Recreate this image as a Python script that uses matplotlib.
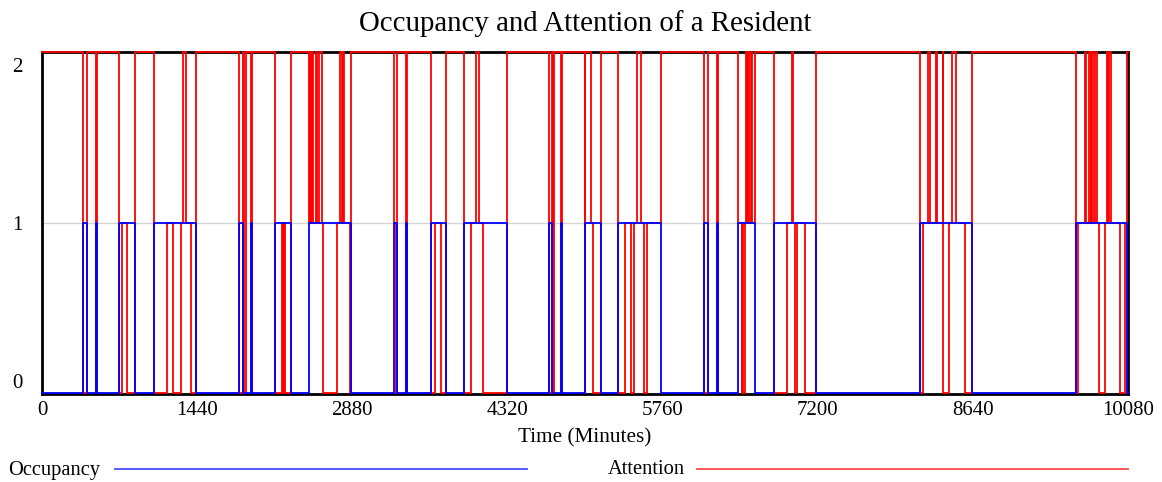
import matplotlib
matplotlib.use('Agg')
from matplotlib import pyplot as plt
from matplotlib.lines import Line2D
from matplotlib.transforms import ScaledTranslation

# occupancy: minutes when the resident enters / leaves
occ_on = [384, 498, 715, 1037, 1832, 1937, 2163, 2481, 3267, 3375, 3608,
          3920, 4706, 4813, 5040, 5350, 6145, 6262, 6463, 6797, 8150, 9595]
occ_off = [421, 510, 863, 1429, 1863, 1952, 2311, 2868, 3298, 3391, 3747,
           4319, 4731, 4823, 5189, 5743, 6179, 6270, 6618, 7184, 8635, 10068]

# attention: minute of change and new level (starts at 2)
att_t = [384, 421, 498, 510,
         715, 746, 786, 863,
         1037, 1157, 1213, 1290, 1312, 1337, 1380, 1429,
         1832, 1863, 1878, 1890, 1937, 1952,
         2163, 2225, 2237, 2246, 2259, 2311,
         2481, 2487, 2494, 2503, 2512, 2540, 2556, 2571, 2596, 2605,
         2735, 2766, 2781, 2797, 2806, 2859, 2868,
         3267, 3283, 3298, 3375, 3391,
         3608, 3648, 3705, 3747,
         3920, 3979, 4028, 4056, 4090, 4319,
         4706, 4731, 4746, 4755, 4813, 4823,
         5040, 5043, 5096, 5111, 5189,
         5350, 5412, 5467, 5498, 5520, 5557, 5588, 5613, 5743,
         6145, 6179, 6262, 6270,
         6463, 6494, 6500, 6510, 6525, 6534, 6540, 6556, 6562, 6581, 6587, 6618,
         6797, 6912, 6964, 6970, 6989, 7011, 7082, 7184,
         8150, 8174, 8227, 8242, 8298, 8310, 8360, 8366, 8422, 8443, 8484,
         8570, 8635,
         9595, 9619, 9681, 9690, 9721, 9733, 9740, 9758, 9773, 9789, 9814,
         9867, 9882, 9897, 9907, 9919, 10006, 10052, 10068]
att_v = [0, 2, 0, 2,
         0, 1, 0, 2,
         0, 1, 0, 1, 2, 1, 0, 2,
         0, 2, 0, 2, 0, 2,
         0, 1, 0, 1, 0, 2,
         1, 2, 1, 2, 1, 2, 1, 2, 1, 0,
         1, 2, 1, 2, 1, 0, 2,
         1, 0, 2, 0, 2,
         0, 1, 0, 2,
         0, 1, 2, 1, 0, 2,
         0, 2, 0, 2, 0, 2,
         0, 2, 1, 0, 2,
         0, 1, 0, 1, 2, 1, 0, 1, 2,
         0, 2, 0, 2,
         1, 0, 1, 0, 1, 2, 1, 2, 1, 2, 1, 2,
         0, 1, 2, 1, 0, 1, 0, 2,
         0, 1, 2, 1, 2, 1, 2, 0, 1, 2, 1,
         0, 2,
         0, 1, 2, 1, 2, 1, 2, 1, 2, 1, 0,
         1, 2, 1, 2, 1, 0, 1, 2]

t_end = 10080
xticks = [0, 1440, 2880, 4320, 5760, 7200, 8640, 10080]

occ_t = [0]
occ_v = [0]
for a, b in zip(occ_on, occ_off):
    occ_t += [a, b]
    occ_v += [1, 0]
occ_t.append(t_end)
occ_v.append(occ_v[-1])

a_t = [0] + att_t + [t_end]
a_v = [2] + att_v + [att_v[-1]]

plt.rcParams['font.family'] = ['Liberation Serif', 'DejaVu Serif']
fig = plt.figure(figsize=(11.62, 4.82), dpi=100)
ax = fig.add_axes([42 / 1162, 88 / 482, 1086 / 1162, 342 / 482])

ax.axhline(1, color='#d4d4d4', lw=1, zorder=0)
ax.step(a_t, a_v, where='post', color='#ff0000', lw=1.3, zorder=2,
        clip_on=False)
ax.step(occ_t, occ_v, where='post', color='#0000ff', lw=1.3, zorder=3,
        clip_on=False)

ax.set_xlim(0, t_end)
ax.set_ylim(-0.005, 2.0)
ax.set_xticks(xticks)
ax.set_xticklabels([str(x) for x in xticks])
ax.set_yticks([0, 1, 2])
ax.set_yticklabels(['0', '1', '2'])
ax.tick_params(length=0, labelsize=15)
ax.tick_params(axis='y', pad=14)
ax.tick_params(axis='x', pad=5)
labs = ax.get_yticklabels()
labs[0].set_verticalalignment('bottom')
labs[2].set_verticalalignment('top')
labs[2].set_transform(labs[2].get_transform() +
                      ScaledTranslation(0, -0.06, fig.dpi_scale_trans))
for s in ax.spines.values():
    s.set_linewidth(2)
    s.set_zorder(1)

ax.set_xlabel('Time (Minutes)', fontsize=15.3, labelpad=6)
ax.set_title('Occupancy and Attention of a Resident', fontsize=20.8, pad=15)

fig.text(8 / 1162, 1 - 470 / 482, 'Occupancy', fontsize=14.8, va='center')
fig.add_artist(Line2D([115 / 1162, 527 / 1162], [1 - 469 / 482] * 2,
                      color='#4a4aff', lw=1.3))
fig.text(608 / 1162, 1 - 470 / 482, 'Attention', fontsize=14.8, va='center')
fig.add_artist(Line2D([697 / 1162, 1128 / 1162], [1 - 469 / 482] * 2,
                      color='#ff4a4a', lw=1.3))

plt.savefig('out.png', dpi=100)
